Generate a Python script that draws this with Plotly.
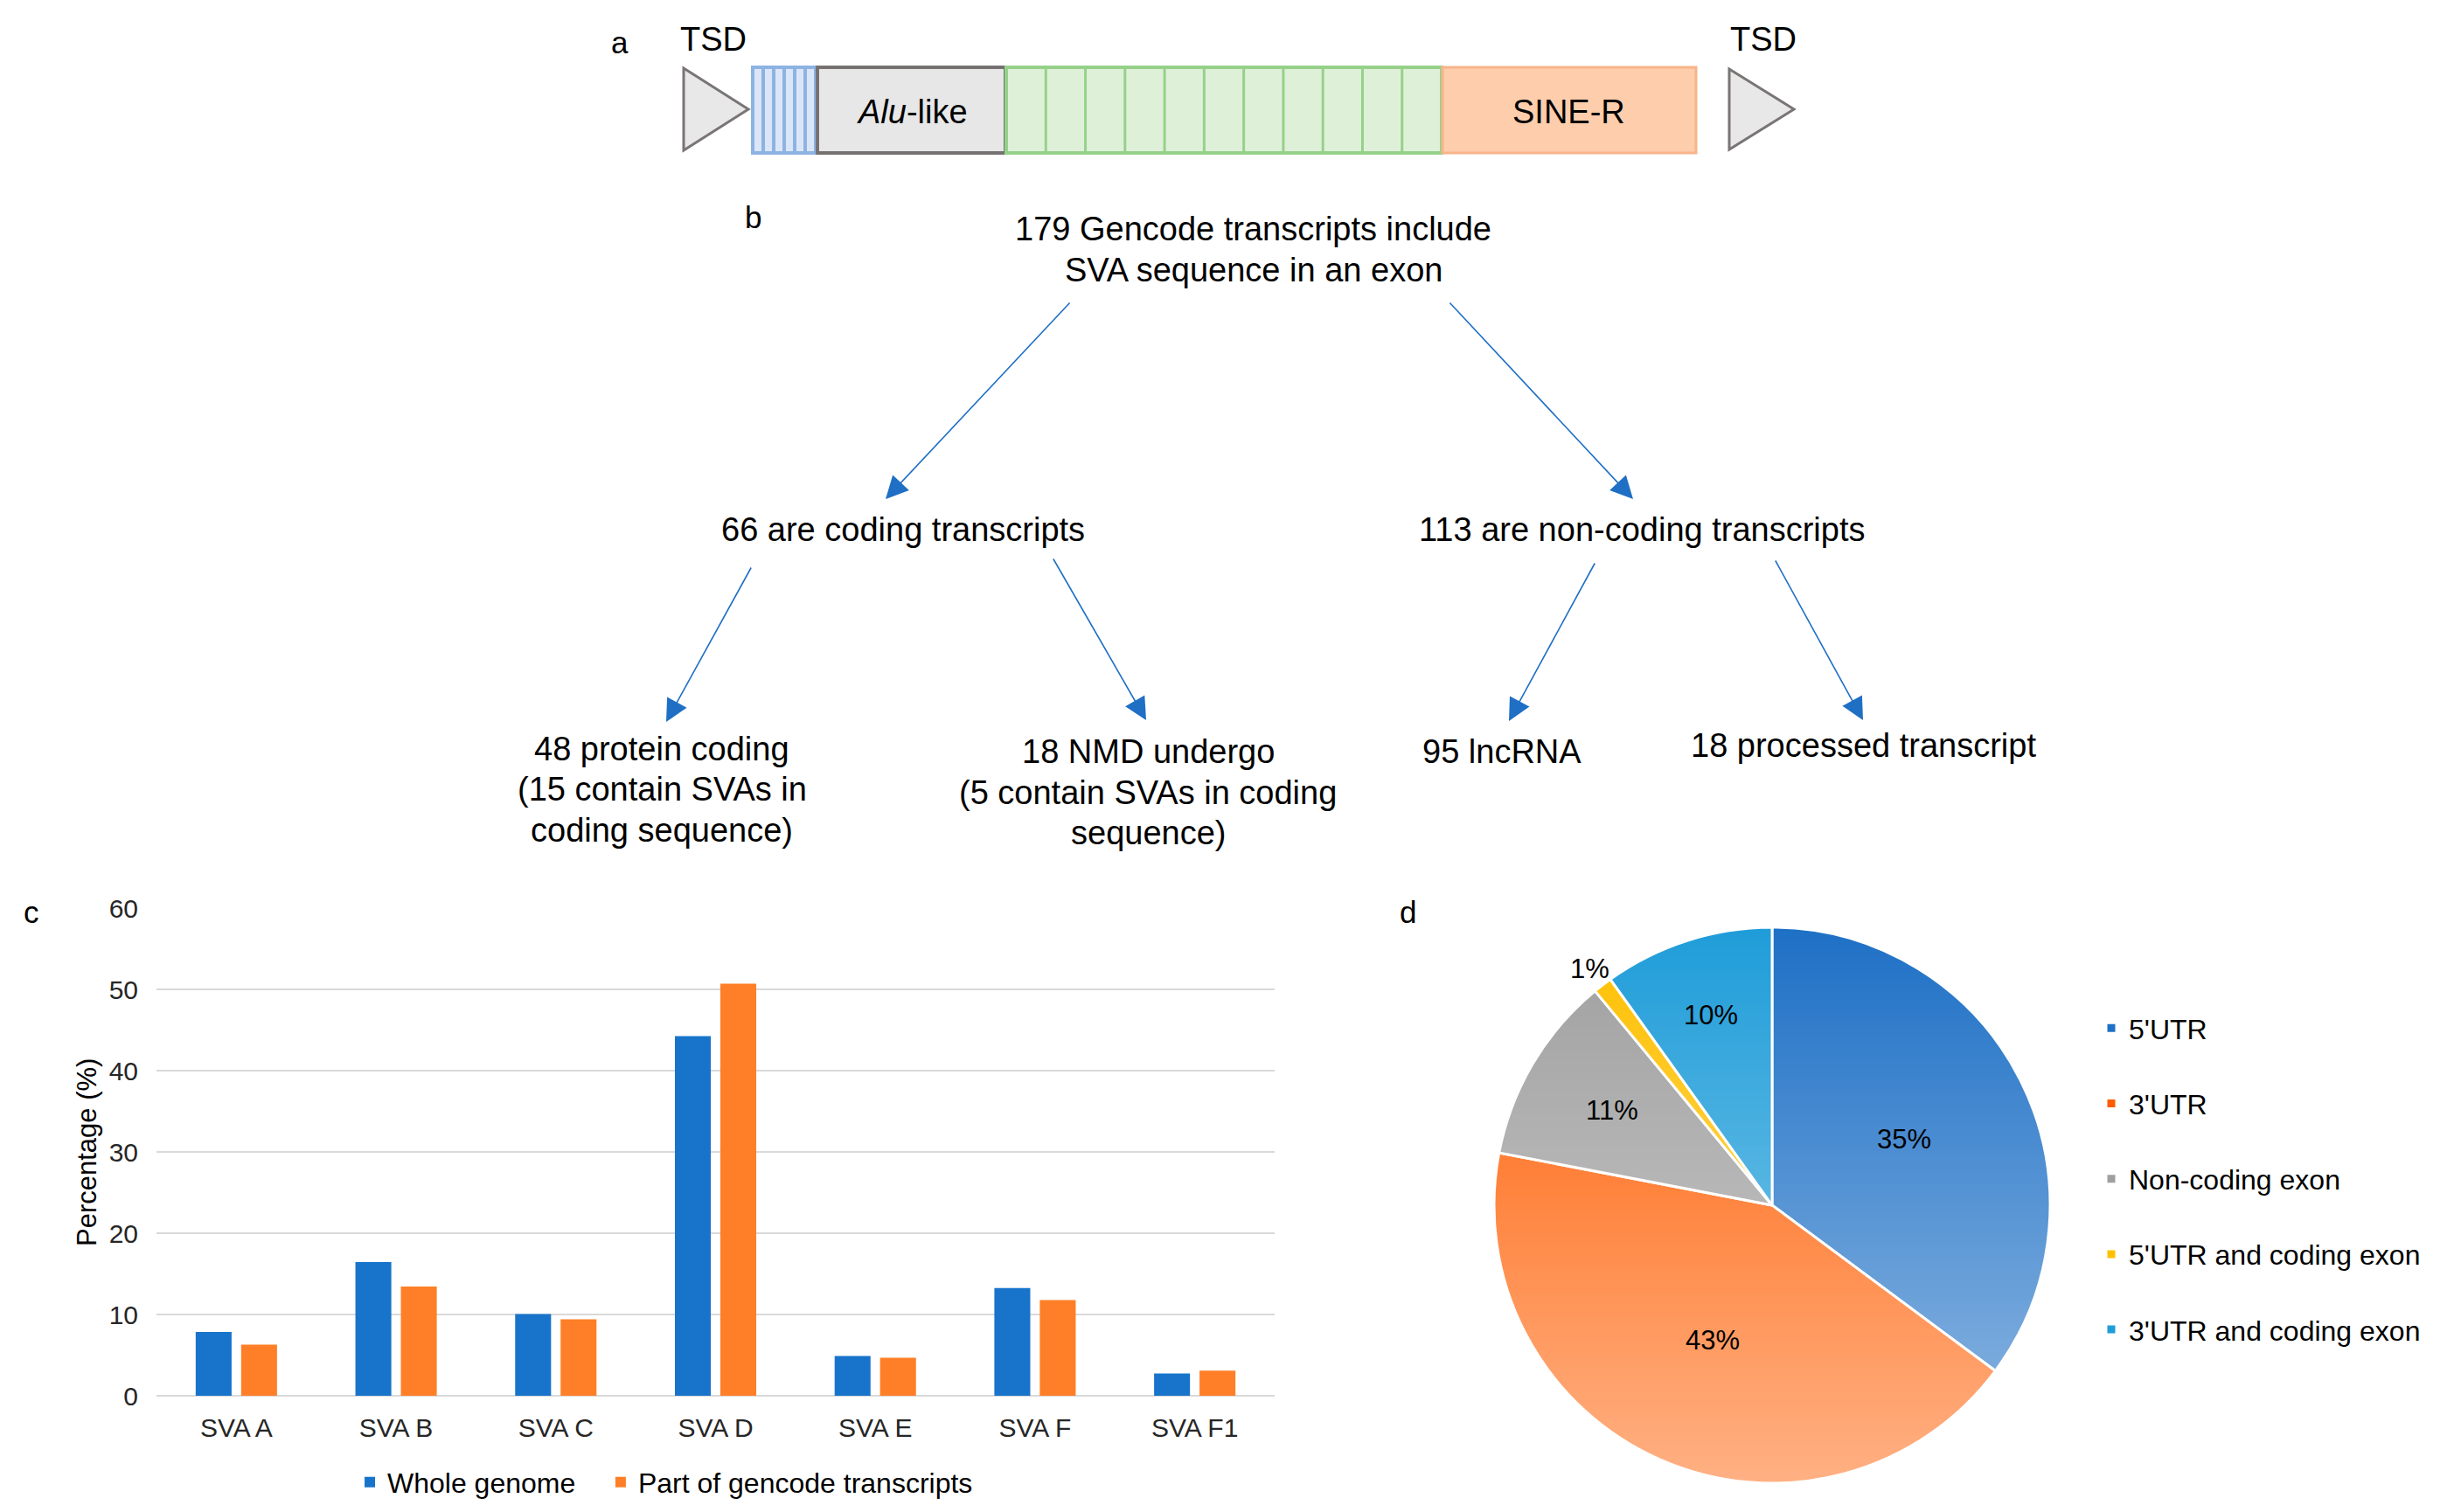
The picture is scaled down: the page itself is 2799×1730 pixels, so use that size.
import base64
import math
import struct
import zlib

import plotly.graph_objects as go

# page body has an 8px margin: draw in a figure that fits the 2799x1730 window exactly
OFF = 8
W, H = 2799 - 2 * OFF, 1730 - 2 * OFF
FONT = "Liberation Sans, Arial, sans-serif"

# ---------------- data ----------------
categories = ["SVA A", "SVA B", "SVA C", "SVA D", "SVA E", "SVA F", "SVA F1"]
whole_genome = [7.85, 16.45, 10.05, 44.25, 4.88, 13.25, 2.75]
gencode_part = [6.3, 13.45, 9.4, 50.7, 4.68, 11.78, 3.08]
series_names = ["Whole genome", "Part of gencode transcripts"]
y_ticks = [0, 10, 20, 30, 40, 50, 60]

pie_labels = ["5'UTR", "3'UTR", "Non-coding exon", "5'UTR and coding exon", "3'UTR and coding exon"]
pie_counts = [32, 39, 10, 1, 9]

flow_top = ["179 Gencode transcripts include", "SVA sequence in an exon"]
flow_mid = ["66 are coding transcripts", "113 are non-coding transcripts"]
flow_low = [["48 protein coding", "(15 contain SVAs in", "coding sequence)"],
            ["18 NMD undergo", "(5 contain SVAs in coding", "sequence)"],
            ["95 lncRNA"],
            ["18 processed transcript"]]

# ---------------- helpers (reference-image pixels -> paper) ----------------
def X(px):
    return (px - OFF) / W

def Y(py):
    return 1 - (py - OFF) / H

BLUE = "#1874cb"
ORANGE = "#fe7f27"

fig = go.Figure()

# ---------------- panel c : bars ----------------
fig.add_trace(go.Bar(x=categories, y=whole_genome, name=series_names[0] + "\u00a0" * 3,
                     marker=dict(color=BLUE, line=dict(width=0)),
                     xaxis="x", yaxis="y", legend="legend"))
fig.add_trace(go.Bar(x=categories, y=gencode_part, name=series_names[1],
                     marker=dict(color=ORANGE, line=dict(width=0)),
                     xaxis="x", yaxis="y", legend="legend"))

# ---------------- panel d : pie ----------------
PCX, PCY, PR = 2027, 1379, 318
pie_colors = ["#1e70c6", "#ff5d00", "#9f9f9f", "#ffc000", "#1f9dd9"]
fig.add_trace(go.Pie(
    labels=[l + "<br> " for l in pie_labels], values=pie_counts, sort=False,
    direction="clockwise", rotation=0,
    marker=dict(colors=pie_colors, line=dict(color="white", width=3)),
    textinfo="none",
    domain=dict(x=[X(PCX - PR), X(PCX + PR)], y=[Y(PCY + PR), Y(PCY - PR)]),
    legend="legend2", hoverinfo="label+percent",
))

# vertical white gradient veil over the pie (Excel-style gradient fill)
def gradient_png(a_max, n=256):
    raw = b""
    for i in range(n):
        a = int(round(255 * a_max * i / (n - 1)))
        raw += b"\x00" + bytes([255, 255, 255, a]) * 2
    def chunk(t, d):
        c = struct.pack(">I", len(d)) + t + d
        return c + struct.pack(">I", zlib.crc32(t + d) & 0xFFFFFFFF)
    png = b"\x89PNG\r\n\x1a\n"
    png += chunk(b"IHDR", struct.pack(">IIBBBBB", 2, n, 8, 6, 0, 0, 0))
    png += chunk(b"IDAT", zlib.compress(raw, 9))
    png += chunk(b"IEND", b"")
    return "data:image/png;base64," + base64.b64encode(png).decode()

images = [dict(source=gradient_png(0.52), xref="paper", yref="paper",
               x=X(PCX - PR - 4), y=Y(PCY - PR - 4),
               sizex=X(PCX + PR + 4) - X(PCX - PR - 4),
               sizey=Y(PCY - PR - 4) - Y(PCY + PR + 4),
               sizing="stretch", layer="above", xanchor="left", yanchor="top")]

shapes = []
annotations = []

def txt(s, x, y, size=38, xanchor="center", yanchor="middle", color="black"):
    annotations.append(dict(text=s, x=X(x), y=Y(y), xref="paper", yref="paper",
                            showarrow=False, xanchor=xanchor, yanchor=yanchor,
                            font=dict(size=size, color=color, family=FONT)))

# percentage labels of the pie, placed on each slice's bisector
label_radius = [0.53, 0.53, 0.67, 1.075, 0.72]
total = sum(pie_counts)
cum = 0
for cnt, fr in zip(pie_counts, label_radius):
    mid = 2 * math.pi * (cum + cnt / 2) / total
    cum += cnt
    lx = PCX + fr * PR * math.sin(mid)
    ly = PCY - fr * PR * math.cos(mid)
    txt(f"{round(100 * cnt / total)}%", lx, ly, size=31)

# ---------------- panel a : SVA structure ----------------
def rect(x0, x1, y0, y1, fill, line, lw):
    shapes.append(dict(type="rect", xref="paper", yref="paper",
                       x0=X(x0), x1=X(x1), y0=Y(y1), y1=Y(y0),
                       fillcolor=fill, line=dict(color=line, width=lw)))

def vline(x, y0, y1, color, lw):
    shapes.append(dict(type="line", xref="paper", yref="paper",
                       x0=X(x), x1=X(x), y0=Y(y0), y1=Y(y1),
                       line=dict(color=color, width=lw)))

def tri(x0, x1, y0, y1):
    ym = (y0 + y1) / 2
    path = f"M {X(x0)} {Y(y0)} L {X(x1)} {Y(ym)} L {X(x0)} {Y(y1)} Z"
    shapes.append(dict(type="path", xref="paper", yref="paper", path=path,
                       fillcolor="#e8e8e8", line=dict(color="#7a7575", width=3)))

BY0, BY1 = 77, 175
tri(782, 856, 78, 172)
tri(1978, 2052, 79, 171)
rect(861, 933, BY0, BY1, "#dae6f7", "#8db3e2", 4)
for i in range(1, 6):
    vline(861 + 12 * i, BY0, BY1, "#8db3e2", 4)
rect(935, 1150, BY0, BY1, "#e7e7e7", "#767171", 4)
rect(1151, 1649, BY0, BY1, "#dff0d9", "#96d18a", 4)
for i in range(1, 11):
    vline(1151 + (1649 - 1151) / 11 * i, BY0, BY1, "#96d18a", 3)
rect(1650, 1940, BY0, BY1, "#fdcdac", "#f8b48a", 3)

txt("a", 709, 48, size=35)
txt("TSD", 816, 45)
txt("TSD", 2017, 45)
txt("<i>Alu</i>-like", 1043, 128)
txt("SINE-R", 1795, 128)

# ---------------- panel b : flow diagram ----------------
txt("b", 861, 248, size=35)
LS = 46.5
for i, s in enumerate(flow_top):
    txt(s, 1434, 262 + LS * i)
txt(flow_mid[0], 1033, 606)
txt(flow_mid[1], 1878, 606)
low_pos = [(757, 857), (1313, 860), (1718, 860), (2131, 853)]
for lines, (cx, cy) in zip(flow_low, low_pos):
    for i, s in enumerate(lines):
        txt(s, cx, cy + LS * i)

arrows = [((1225, 345), (1013, 571)),
          ((1657, 345), (1868, 571)),
          ((860, 648), (762, 826)),
          ((1204, 638), (1311, 824)),
          ((1825, 643), (1726, 825)),
          ((2030, 640), (2131, 824))]
for (tx, ty), (hx, hy) in arrows:
    annotations.append(dict(text="", x=X(hx), y=Y(hy), xref="paper", yref="paper",
                            ax=tx - hx, ay=ty - hy, axref="pixel", ayref="pixel",
                            showarrow=True, arrowhead=2, arrowsize=3.2, arrowwidth=1.6,
                            arrowcolor="#1f6fc5", standoff=0, startstandoff=0))

# ---------------- panel labels c / d ----------------
txt("c", 36, 1043, size=35)
txt("d", 1610, 1043, size=35)
txt("Percentage (%)", 99, 1318, size=31)
annotations[-1]["textangle"] = -90

fig.update_layout(
    width=W, height=H, autosize=False,
    margin=dict(l=0, r=0, t=0, b=0, pad=0, autoexpand=False),
    paper_bgcolor="white", plot_bgcolor="white",
    font=dict(family=FONT, color="black"),
    barmode="group", bargap=0.431, bargroupgap=0.21,
    xaxis=dict(domain=[X(179), X(1458)], showgrid=False, showline=False, ticks="",
               tickfont=dict(size=30, color="#262626"), ticklabelstandoff=16,
               fixedrange=True),
    yaxis=dict(domain=[Y(1597), Y(1039)], range=[0, 60], tickvals=y_ticks,
               showgrid=True, gridcolor="#d9d9d9", gridwidth=2,
               zeroline=True, zerolinecolor="#d9d9d9", zerolinewidth=2,
               showline=False, ticks="", tickfont=dict(size=30, color="#262626"),
               ticklabelstandoff=20, fixedrange=True),
    legend=dict(orientation="h", x=X(403), y=Y(1696), xanchor="left", yanchor="middle",
                font=dict(size=32, family=FONT, color="black"), bgcolor="rgba(0,0,0,0)"),
    legend2=dict(orientation="v", x=X(2395), y=Y(1149), xanchor="left", yanchor="top",
                 valign="top", font=dict(size=32, family=FONT, color="black"),
                 bgcolor="rgba(0,0,0,0)"),
    shapes=shapes, annotations=annotations, images=images,
)

fig.write_html("out.html")
